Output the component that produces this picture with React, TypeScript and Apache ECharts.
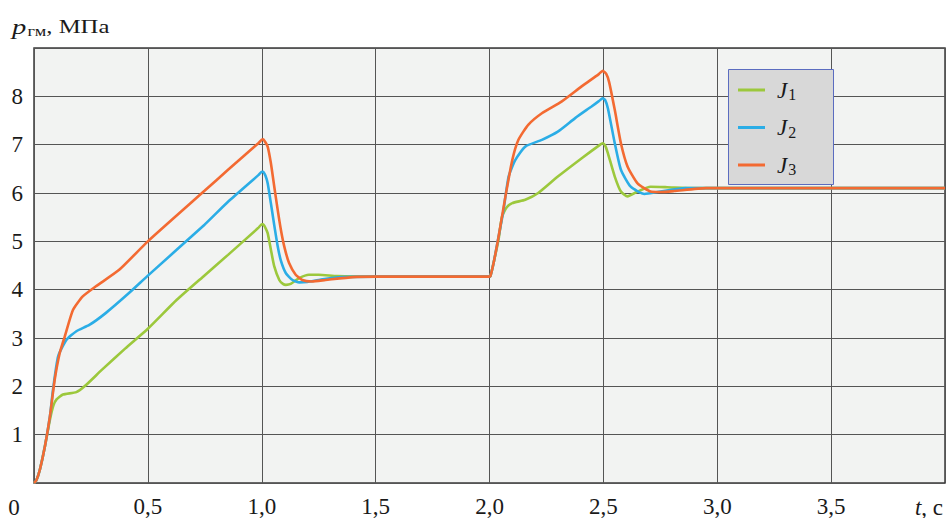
import React, { useEffect, useRef } from "react";
import * as echarts from "echarts";

const seriesNames = ["J1", "J2", "J3"];
const seriesColors = ["#9cc83c", "#2badE6", "#f36a32"];

const xTicks = ["0,5", "1,0", "1,5", "2,0", "2,5", "3,0", "3,5"];
const yTicks = ["1", "2", "3", "4", "5", "6", "7", "8"];

const j1: [number, number][] = [
  [0, 0], [0.01, 0.05], [0.026, 0.28], [0.048, 0.76], [0.07, 1.31], [0.085, 1.6], [0.099, 1.73],
  [0.127, 1.83], [0.186, 1.88], [0.222, 2.0], [0.3, 2.35], [0.4, 2.78], [0.5, 3.19], [0.627, 3.79],
  [0.75, 4.3], [0.852, 4.72], [0.985, 5.28], [1.0, 5.35], [1.006, 5.35], [1.016, 5.28], [1.026, 5.17],
  [1.04, 4.83], [1.055, 4.48], [1.077, 4.2], [1.093, 4.12], [1.106, 4.1], [1.127, 4.12], [1.164, 4.24],
  [1.207, 4.31], [1.25, 4.31], [1.33, 4.28], [1.5, 4.27], [2.0, 4.27],
  [2.004, 4.28], [2.02, 4.6], [2.04, 5.05], [2.055, 5.51], [2.075, 5.7], [2.1, 5.79], [2.157, 5.86],
  [2.214, 6.0], [2.3, 6.34], [2.405, 6.72], [2.48, 6.98], [2.497, 7.03], [2.508, 6.98], [2.52, 6.82],
  [2.55, 6.34], [2.577, 6.03], [2.606, 5.93], [2.65, 6.03], [2.707, 6.13], [2.78, 6.12], [2.9, 6.1],
  [4.0, 6.1],
];

const j2: [number, number][] = [
  [0, 0], [0.01, 0.05], [0.026, 0.28], [0.048, 0.76], [0.07, 1.38], [0.084, 1.95], [0.106, 2.62],
  [0.142, 2.96], [0.186, 3.14], [0.243, 3.27], [0.316, 3.52], [0.417, 3.93], [0.5, 4.29], [0.75, 5.35],
  [0.852, 5.82], [0.985, 6.37], [1.0, 6.44], [1.006, 6.44], [1.016, 6.36], [1.026, 6.2], [1.04, 5.79],
  [1.055, 5.33], [1.07, 4.9], [1.084, 4.6], [1.106, 4.34], [1.135, 4.2], [1.165, 4.15], [1.2, 4.16],
  [1.26, 4.21], [1.35, 4.26], [1.5, 4.27], [2.0, 4.27], [2.004, 4.28],
  [2.02, 4.6], [2.04, 5.1], [2.06, 5.6], [2.084, 6.34], [2.113, 6.68], [2.157, 6.96], [2.23, 7.1],
  [2.3, 7.27], [2.376, 7.55], [2.448, 7.79], [2.48, 7.9], [2.497, 7.96], [2.508, 7.92], [2.52, 7.75],
  [2.55, 7.03], [2.577, 6.48], [2.62, 6.13], [2.68, 5.98], [2.75, 6.03], [2.86, 6.1], [4.0, 6.1],
];

const j3: [number, number][] = [
  [0, 0], [0.01, 0.05], [0.026, 0.28], [0.048, 0.76], [0.07, 1.38], [0.091, 2.14], [0.113, 2.69],
  [0.135, 3.03], [0.171, 3.58], [0.214, 3.86], [0.272, 4.07], [0.374, 4.41], [0.5, 5.0], [0.75, 6.05],
  [0.852, 6.48], [0.985, 7.03], [1.0, 7.1], [1.006, 7.11], [1.016, 7.05], [1.026, 6.96], [1.04, 6.62],
  [1.055, 6.13], [1.07, 5.65], [1.084, 5.24], [1.099, 4.89], [1.12, 4.55], [1.149, 4.31], [1.178, 4.2],
  [1.22, 4.17], [1.28, 4.2], [1.4, 4.26], [1.5, 4.27], [2.0, 4.27],
  [2.004, 4.28], [2.02, 4.6], [2.04, 5.1], [2.07, 5.93], [2.1, 6.68], [2.127, 7.1], [2.17, 7.41],
  [2.23, 7.65], [2.316, 7.89], [2.403, 8.2], [2.48, 8.46], [2.497, 8.53], [2.512, 8.47], [2.525, 8.3],
  [2.55, 7.72], [2.577, 7.03], [2.606, 6.55], [2.65, 6.2], [2.707, 6.03], [2.75, 6.02], [2.81, 6.04],
  [2.95, 6.1], [4.0, 6.1],
];

const seriesData = [j1, j2, j3];

const FONT = "'Liberation Serif', 'Times New Roman', serif";

export default function App() {
  const ref = useRef<HTMLDivElement>(null);
  useEffect(() => {
    if (!ref.current) return;
    const chart = echarts.init(ref.current, undefined, { renderer: "svg" });
    const xLabel = (v: number) => {
      const s = v.toFixed(1).replace(".", ",");
      return xTicks.includes(s) ? s : "";
    };
    const yLabel = (v: number) => {
      const s = String(v);
      return yTicks.includes(s) ? s : "";
    };
    chart.setOption({
      animation: false,
      backgroundColor: "#ffffff",
      grid: {
        left: 34,
        top: 48,
        width: 920,
        height: 435.5,
        show: true,
        backgroundColor: "#f2f3f2",
        borderColor: "#3a3a3a",
        borderWidth: 1.5,
      },
      xAxis: {
        type: "value",
        min: 0,
        max: 4,
        interval: 0.5,
        axisLine: { show: false },
        axisTick: { show: false },
        splitLine: { show: true, lineStyle: { color: "#555", width: 1 } },
        axisLabel: {
          formatter: xLabel,
          fontFamily: FONT,
          fontSize: 23,
          color: "#1a1a1a",
          margin: 12,
        },
      },
      yAxis: {
        type: "value",
        min: 0,
        max: 9,
        interval: 1,
        axisLine: { show: false },
        axisTick: { show: false },
        splitLine: { show: true, lineStyle: { color: "#555", width: 1 } },
        axisLabel: {
          formatter: yLabel,
          fontFamily: FONT,
          fontSize: 23,
          color: "#1a1a1a",
          margin: 11,
        },
      },
      legend: {
        orient: "vertical",
        left: 728,
        top: 69,
        padding: [9, 10, 8, 10],
        itemWidth: 27,
        itemHeight: 3,
        itemGap: 13,
        icon: "rect",
        z: 10,
        data: seriesNames,
        formatter: (name: string) => `{j|J}{s|${name.slice(1)}}`,
        textStyle: {
          fontFamily: FONT,
          color: "#1a1a1a",
          lineHeight: 24,
          rich: {
            j: { fontFamily: FONT, fontSize: 23, fontStyle: "italic", padding: [0, 0, 0, 7] },
            s: { fontFamily: FONT, fontSize: 16, padding: [9, 0, 0, 1] },
          },
        },
      },
      graphic: [
        {
          type: "rect",
          z: 5,
          shape: { x: 728.5, y: 69.5, width: 105, height: 115 },
          style: { fill: "#d8d8d8", stroke: "#5b6cc0", lineWidth: 1 },
        },
        {
          type: "text",
          x: 14,
          y: 507,
          style: {
            text: "0",
            fontFamily: FONT,
            fontSize: 23,
            fill: "#1a1a1a",
            textAlign: "center",
            textVerticalAlign: "middle",
          },
        },
        {
          type: "text",
          x: 929,
          y: 507,
          style: {
            text: "{i|t}{n|, c}",
            textAlign: "center",
            textVerticalAlign: "middle",
            fill: "#1a1a1a",
            rich: {
              i: { fontFamily: FONT, fontSize: 23, fontStyle: "italic", fill: "#1a1a1a" },
              n: { fontFamily: FONT, fontSize: 23, fill: "#1a1a1a" },
            },
          },
        },
        {
          type: "text",
          x: 12,
          y: 27,
          scaleX: 1.3,
          style: {
            text: "{p|p}{s|гм}{n|, МПа}",
            textAlign: "left",
            textVerticalAlign: "middle",
            fill: "#1a1a1a",
            rich: {
              p: { fontFamily: FONT, fontSize: 22, fontStyle: "italic", fill: "#1a1a1a" },
              s: { fontFamily: FONT, fontSize: 14, padding: [9, 0, 0, 1], fill: "#1a1a1a" },
              n: { fontFamily: FONT, fontSize: 19, fill: "#1a1a1a" },
            },
          },
        },
      ],
      series: seriesNames.map((name, i) => ({
        name,
        type: "line",
        data: seriesData[i],
        showSymbol: false,
        smooth: 0.18,
        color: seriesColors[i],
        lineStyle: { color: seriesColors[i], width: 2.6 },
        z: 2 + i,
      })),
    });
    return () => chart.dispose();
  }, []);
  return (
    <div
      ref={ref}
      style={{ position: "absolute", left: 0, top: 0, width: 948, height: 518 }}
    />
  );
}
